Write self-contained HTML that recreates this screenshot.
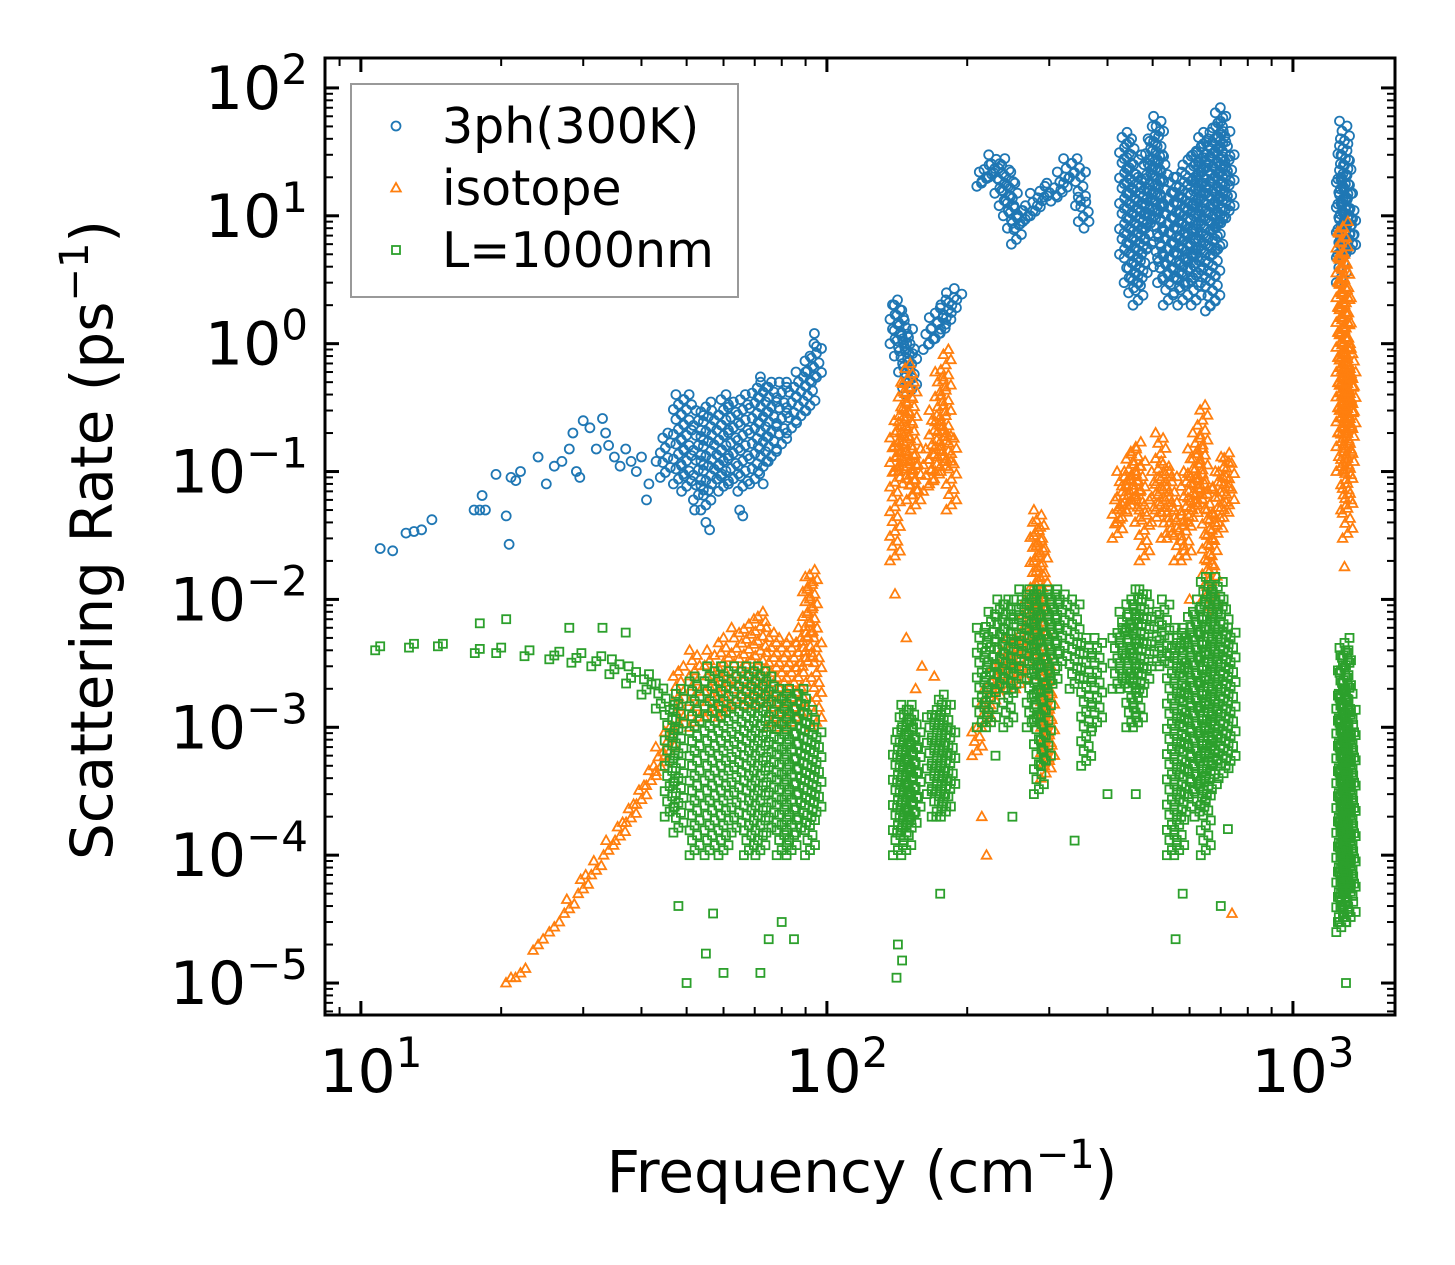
<!DOCTYPE html>
<html><head><meta charset="utf-8"><style>
html,body{margin:0;padding:0;background:#fff}
svg{display:block;font-family:"DejaVu Sans","Liberation Sans",sans-serif}
</style></head><body>
<svg id="chart" width="1455" height="1265" viewBox="0 0 1455 1265" xmlns="http://www.w3.org/2000/svg">
<rect width="1455" height="1265" fill="#fff"/>
<g id="marks"></g>
<g id="axes"></g>
</svg>
<script>
// ---- data ----
const xTickExps = [1, 2, 3];
const yTickExps = [-5, -4, -3, -2, -1, 0, 1, 2];
const seriesNames = ["3ph(300K)", "isotope", "L=1000nm"];
// scatter points [freq, rate]
const blueScatter = [[11,0.025],[11.7,0.024],[12.5,0.033],[13,0.034],[13.5,0.035],[14.2,0.042],[17.5,0.05],[18,0.05],[18.2,0.065],[18.5,0.05],[19.5,0.095],[20.5,0.045],[20.8,0.027],[21,0.09],[21.5,0.085],[22,0.1],[24,0.13],[25,0.08],[26,0.11],[27,0.12],[28,0.15],[28.5,0.2],[29,0.1],[29.5,0.09],[30,0.25],[31,0.22],[32,0.15],[33,0.26],[33.5,0.2],[34,0.16],[35,0.13],[36,0.11],[37,0.15],[38,0.12],[39,0.1],[40,0.13],[41,0.06],[41.5,0.08],[43,0.12],[52,0.05],[55,0.04],[56,0.035],[65,0.05],[66,0.045],[72,0.55],[73,0.08],[90,0.6],[94,1.2],[95,0.95]];
const blueBands = [[45,0.09,0.2],[48,0.08,0.4],[50,0.07,0.4],[53,0.06,0.3],[55,0.05,0.35],[58,0.08,0.3],[60,0.07,0.4],[63,0.08,0.35],[66,0.07,0.4],[70,0.08,0.45],[73,0.1,0.5],[76,0.12,0.5],[80,0.15,0.5],[84,0.2,0.5],[88,0.25,0.6],[92,0.3,0.8],[95,0.5,1.0],
[140,1.0,2.2],[143,0.8,2.0],[146,0.6,1.6],[149,0.45,1.3],[152,0.4,1.0],
[165,0.9,1.3],[170,1.0,1.6],[175,1.1,1.9],[180,1.3,2.2],[185,1.6,2.5],[190,2.0,2.7],
[215,17,22],[220,18,25],[228,20,30],[235,15,28],[240,12,25],[245,10,22],[250,8,18],[255,6,12],[260,8,11],[270,9,12],[280,10,15],[290,12,17],[300,14,18],[310,13,16],[320,14,22],[330,18,28],[340,20,28],[350,12,22],[355,9,14],[365,8,9],
[435,5,45],[445,3,40],[455,2.5,30],[465,2,20],[475,3,15],[485,5,30],[495,8,40],[505,10,50],[515,4,60],[525,3,30],[540,2,15],[555,3,20],[570,2.5,22],[580,2,15],[595,4,25],[610,3,30],[620,2,35],[635,5,45],[650,3,40],[665,1.8,35],[680,2,45],[690,5,70],[700,8,60],[715,10,50],[730,10,30],
[1270,3,20],[1280,5,40],[1290,6,55],[1300,8,30],[1310,5,15],[1320,6,12],[1330,5,10]];
const orangeScatter = [[140,0.011],[148,0.005],[155,0.002],[160,0.003],[170,0.0025],[215,2e-4],[220,1e-4],[740,3.5e-5],[1290,0.018],[600,0.01]];
const orangeBands = [[21,1e-5,1.1e-5],[22,1.1e-5,1.3e-5],[24,1.8e-5,2.2e-5],[26,2.5e-5,3e-5],[28,3.5e-5,4.5e-5],[30,5e-5,7e-5],[32,7e-5,9e-5],[34,1e-4,1.3e-4],[36,1.3e-4,1.8e-4],[38,1.8e-4,2.5e-4],[40,2.5e-4,3.5e-4],[42,3.5e-4,5e-4],[44,4.5e-4,7e-4],[46,6e-4,1e-3],
[48,1e-3,3e-3],[52,1e-3,4e-3],[56,1.2e-3,4e-3],[60,1.2e-3,5e-3],[64,1.5e-3,6e-3],[68,1.5e-3,7e-3],[72,1.5e-3,8e-3],[76,1e-3,6e-3],[80,1e-3,5e-3],[84,1e-3,5e-3],[88,1.2e-3,6e-3],[91,3e-3,1.5e-2],[93,5e-3,1.7e-2],[95,1e-3,5e-3],
[140,0.02,0.2],[143,0.1,0.3],[146,0.1,0.5],[149,0.08,0.7],[152,0.06,0.5],[155,0.05,0.15],[165,0.07,0.15],[170,0.08,0.3],[175,0.1,0.6],[180,0.1,0.9],[185,0.05,0.2],
[210,6e-4,1e-3],[220,1e-3,2e-3],[230,1.5e-3,3e-3],[240,2e-3,4e-3],[250,2e-3,5e-3],[260,2e-3,6e-3],[270,3e-3,0.01],[280,5e-3,0.04],[285,8e-3,0.05],[290,3e-3,0.03],[295,4e-4,3e-3],[300,5e-4,2e-3],
[420,0.03,0.06],[430,0.04,0.1],[440,0.05,0.1],[450,0.05,0.15],[460,0.06,0.17],[470,0.04,0.12],[480,0.02,0.06],
[510,0.04,0.1],[520,0.05,0.2],[535,0.03,0.12],[550,0.03,0.1],[570,0.02,0.05],[590,0.02,0.1],[610,0.04,0.15],[625,0.05,0.2],[640,0.06,0.33],[655,0.01,0.08],[670,0.008,0.05],[690,0.03,0.1],[710,0.04,0.13],[730,0.05,0.14],
[1270,0.1,8],[1280,0.2,9],[1290,0.3,5],[1300,0.05,3],[1310,0.03,1],[1320,0.1,0.8],[1330,0.2,0.6]];
const greenScatter = [[18,6.5e-3],[20.5,7e-3],[28,6e-3],[33,6e-3],[37,5.5e-3],[48,4e-5],[50,1e-5],[55,1.7e-5],[57,3.5e-5],[60,1.2e-5],[72,1.2e-5],[75,2.2e-5],[80,3e-5],[85,2.2e-5],[142,2e-5],[145,1.5e-5],[141,1.1e-5],[175,5e-5],[230,6e-4],[250,2e-4],[340,1.3e-4],[400,3e-4],[460,3e-4],[560,2.2e-5],[580,5e-5],[700,4e-5],[725,1.6e-4],[1300,1e-5]];
const greenBands = [[11,4e-3,4.3e-3],[13,4.2e-3,4.5e-3],[15,4.3e-3,4.5e-3],[18,3.8e-3,4.1e-3],[20,3.8e-3,4.2e-3],[23,3.6e-3,4e-3],[26,3.4e-3,3.9e-3],[29,3.2e-3,3.8e-3],[32,3e-3,3.6e-3],[35,2.6e-3,3.4e-3],[38,2.2e-3,3e-3],[41,1.8e-3,2.6e-3],[44,1.4e-3,2.2e-3],
[46,2e-4,1.5e-3],[48,1.5e-4,2e-3],[52,1e-4,2.5e-3],[56,1e-4,3e-3],[60,1e-4,3e-3],[64,1.5e-4,3e-3],[68,1e-4,3e-3],[72,1e-4,3e-3],[76,1.5e-4,2.5e-3],[80,1e-4,2e-3],[84,1e-4,2e-3],[88,1.5e-4,2e-3],[92,1e-4,1.5e-3],[95,2e-4,1e-3],
[142,1e-4,8e-4],[145,1.5e-4,1.2e-3],[148,1e-4,1.5e-3],[152,1.5e-4,1.5e-3],[155,2e-4,1e-3],[168,3e-4,1.2e-3],[172,2e-4,1.5e-3],[176,2e-4,1.8e-3],[180,2e-4,1.5e-3],[184,3e-4,1e-3],
[215,1e-3,6e-3],[225,1e-3,8e-3],[235,2e-3,0.01],[245,1e-3,0.01],[255,2e-3,0.01],[265,3e-3,0.012],[275,1e-3,0.012],[285,3e-4,0.012],[295,5e-4,0.012],[305,2e-3,0.012],[320,3e-3,0.012],[340,2e-3,0.01],[360,5e-4,0.005],[380,1e-3,0.005],
[420,2e-3,6e-3],[435,2e-3,8e-3],[450,1e-3,0.01],[465,1e-3,0.012],[480,2e-3,0.012],
[510,3e-3,8e-3],[530,3e-3,0.01],[550,1e-4,5e-3],[570,1e-4,6e-3],[590,2e-4,6e-3],[610,3e-4,8e-3],[630,2e-4,0.01],[650,1e-4,0.015],[670,3e-4,0.012],[690,5e-4,0.015],[710,4e-4,0.01],[735,5e-4,6e-3],
[1270,2.5e-5,2e-3],[1280,3e-5,4e-3],[1290,3e-5,5e-3],[1300,5e-5,4e-3],[1310,4e-5,2e-3],[1320,5e-5,1e-3],[1330,3e-5,1.5e-3]];

// ---- layout ----
const L=325,R=1395,T=58,B=1015;
const xMin=0.923,xMax=3.219,yMin=-5.25,yMax=2.234;
const NS="http://www.w3.org/2000/svg";
function xs(v){return L+(Math.log10(v)-xMin)/(xMax-xMin)*(R-L);}
function ys(v){return B-(Math.log10(v)-yMin)/(yMax-yMin)*(B-T);}
function mk(tag,attrs,parent){const e=document.createElementNS(NS,tag);for(const k in attrs)e.setAttribute(k,attrs[k]);parent.appendChild(e);return e;}
const marks=document.getElementById('marks'), axes=document.getElementById('axes');
const colors=["#1f77b4","#ff7f0e","#2ca02c"];
function marker(kind,x,y,g){
  let e;
  if(kind===0){e=mk('circle',{cx:x.toFixed(1),cy:y.toFixed(1),r:4.5,fill:'none',stroke:colors[0],'stroke-width':1.8},g);}
  else if(kind===1){e=mk('path',{d:`M${x.toFixed(1)},${(y-5).toFixed(1)}L${(x+4.8).toFixed(1)},${(y+3.5).toFixed(1)}L${(x-4.8).toFixed(1)},${(y+3.5).toFixed(1)}Z`,fill:'none',stroke:colors[1],'stroke-width':1.8},g);}
  else {e=mk('rect',{x:(x-4).toFixed(1),y:(y-4).toFixed(1),width:8,height:8,fill:'none',stroke:colors[2],'stroke-width':1.8},g);}
  
  
}
const offs=[-5,0,5,-2.5,2.5];
function drawSeries(kind,scatter,bands,name){
  const g=mk('g',{},marks);
  
  
  bands.forEach(b=>{
    const x=xs(b[0]),y1=ys(b[1]),y2=ys(b[2]);
    const n=Math.max(1,Math.round((y1-y2)/5));
    for(let i=0;i<=n;i++){const y=y1+(y2-y1)*i/n;marker(kind,x+offs[i%5],y,g);}
  });
  scatter.forEach(p=>marker(kind,xs(p[0]),ys(p[1]),g));
}
drawSeries(0,blueScatter,blueBands,'series-3ph');
drawSeries(1,orangeScatter,orangeBands,'series-isotope');
drawSeries(2,greenScatter,greenBands,'series-l1000nm');

// ---- axes ----
const frame=mk('rect',{x:L,y:T,width:R-L,height:B-T,fill:'none',stroke:'#000','stroke-width':3},axes);

function tickLines(isX){
  const lo=isX?xMin:yMin, hi=isX?xMax:yMax;
  for(let d=Math.floor(lo);d<=Math.ceil(hi);d++){
    for(let m=1;m<10;m++){
      const lv=d+Math.log10(m); if(lv<lo||lv>hi)continue;
      const len=m===1?14:8, w=m===1?3:2;
      if(isX){const x=xs(Math.pow(10,lv));
        mk('line',{x1:x,x2:x,y1:B,y2:B-len,stroke:'#000','stroke-width':w},axes);
        mk('line',{x1:x,x2:x,y1:T,y2:T+len,stroke:'#000','stroke-width':w},axes);}
      else{const y=ys(Math.pow(10,lv));
        mk('line',{x1:L,x2:L+len,y1:y,y2:y,stroke:'#000','stroke-width':w},axes);
        mk('line',{x1:R,x2:R-len,y1:y,y2:y,stroke:'#000','stroke-width':w},axes);}
    }
  }
}
tickLines(true);tickLines(false);
function expLabel(x,y,e,anchor){
  const t=mk('text',{x:x,y:y,'text-anchor':anchor,'font-size':60,fill:'#000'},axes);
  
  
  const a=document.createElementNS(NS,'tspan');a.textContent='10';t.appendChild(a);
  const s=document.createElementNS(NS,'tspan');s.setAttribute('dy',-25);s.setAttribute('font-size',42);
  s.textContent=(e<0?'\u2212':'')+Math.abs(e);t.appendChild(s);
}
xTickExps.forEach(e=>expLabel(xs(Math.pow(10,e))+10,1092,e,'middle'));
yTickExps.forEach(e=>expLabel(308,ys(Math.pow(10,e))+21,e,'end'));
const xt=mk('text',{x:862,y:1192,'text-anchor':'middle','font-size':58,fill:'#000'},axes);

xt.innerHTML='Frequency (cm<tspan dy="-24" font-size="40">\u22121</tspan><tspan dy="24">)</tspan>';
const yt=mk('text',{x:0,y:0,'text-anchor':'middle','font-size':58,fill:'#000',transform:'translate(112,540) rotate(-90)'},axes);

yt.innerHTML='Scattering Rate (ps<tspan dy="-24" font-size="40">\u22121</tspan><tspan dy="24">)</tspan>';

// legend
const lg=mk('g',{},axes);

mk('rect',{x:351,y:84,width:387,height:213,fill:'#fff','fill-opacity':0.8,stroke:'#999','stroke-width':2},lg);
seriesNames.forEach((n,i)=>{
  const y=126+i*62;
  marker(i,396,y,lg);
  const t=mk('text',{x:442,y:y+17,'font-size':49,fill:'#000'},lg);
  
  
  t.textContent=n;
});
</script>
</body></html>
